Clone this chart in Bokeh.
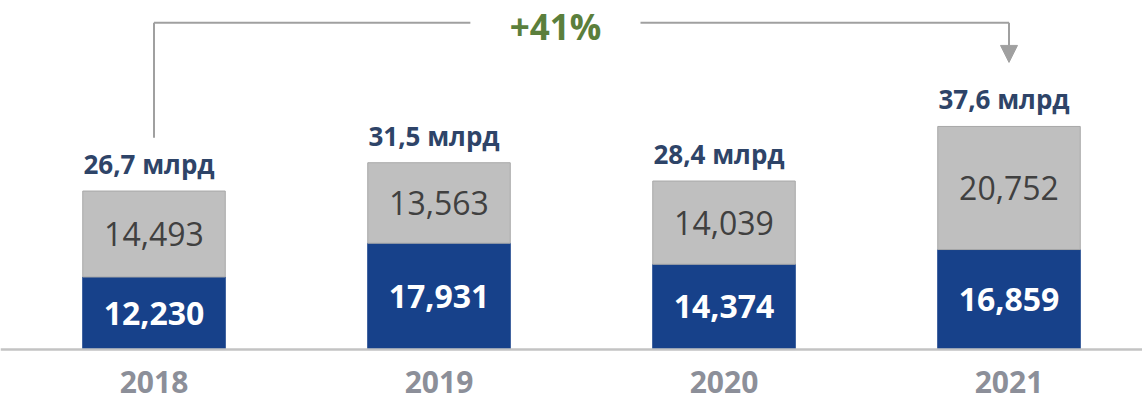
from bokeh.plotting import figure
from bokeh.models import ColumnDataSource, Range1d, Span, Arrow, NormalHead, Label
from bokeh.core.properties import value
from bokeh.embed import file_html
from bokeh.resources import INLINE

# ---- data ----
years = ["2018", "2019", "2020", "2021"]
blue_vals = [12230, 17931, 14374, 16859]
gray_vals = [14493, 13563, 14039, 20752]

# ---- style ----
BLUE = "#17418a"
GRAY = "#bfbfbf"
GRAY_EDGE = "#a8a8a8"
NAVY = "#2e4468"
GREEN = "#5b7f3c"
YEAR_COL = "#8c8f99"
LINE_COL = "#a0a0a0"
FONT = "Open Sans"

xs = list(range(len(years)))
totals = [b + g for b, g in zip(blue_vals, gray_vals)]
growth = round((totals[-1] / totals[0] - 1) * 100)

src = ColumnDataSource(dict(
    x=xs,
    year=years,
    blue=blue_vals,
    gray=gray_vals,
    total=totals,
    blue_mid=[b / 2 for b in blue_vals],
    gray_mid=[b + g / 2 for b, g in zip(blue_vals, gray_vals)],
    blue_txt=[f"{v:,}" for v in blue_vals],
    gray_txt=[f"{v:,}" for v in gray_vals],
    total_txt=[f"{t / 1000:.1f}".replace(".", ",") + " млрд" for t in totals],
    zero=[0] * len(years),
))

p = figure(width=1142, height=403,
           x_range=Range1d(-0.5386, 3.4684), y_range=Range1d(-9100, 58850),
           output_backend="svg", toolbar_location=None, min_border=0)
p.axis.visible = False
p.grid.visible = False
p.outline_line_color = None
p.background_fill_color = "white"
p.border_fill_color = "white"

# stacked bars
p.vbar(x="x", width=0.5, bottom=0, top="blue", source=src,
       fill_color=BLUE, line_color=BLUE, line_width=1)
p.vbar(x="x", width=0.5, bottom="blue", top="total", source=src,
       fill_color=GRAY, line_color=GRAY_EDGE, line_width=1)

# baseline
p.add_layout(Span(location=0, dimension="width", line_color="#c3c3c3", line_width=2.5))

# in-bar labels
p.text(x="x", y="blue_mid", text="blue_txt", source=src,
       text_font=value(FONT), text_font_size="32px", text_font_style="bold",
       text_color="white", text_align="center", text_baseline="middle")
p.text(x="x", y="gray_mid", text="gray_txt", source=src,
       text_font=value(FONT), text_font_size="32px", text_font_style="normal",
       text_color="#404040", text_align="center", text_baseline="middle")

# totals above bars
p.text(x="x", y="total", text="total_txt", source=src, y_offset=-27, x_offset=-5,
       text_font=value(FONT), text_font_size="26px", text_font_style="bold",
       text_color=NAVY, text_align="center", text_baseline="middle")

# year labels under baseline
p.text(x="x", y="zero", text="year", source=src, y_offset=32,
       text_font=value(FONT), text_font_size="30px", text_font_style="bold",
       text_color=YEAR_COL, text_align="center", text_baseline="middle")

# growth bracket
top_y = 55100
gap_l, gap_r = 1.11, 1.707
p.segment(x0=[xs[0], xs[0], gap_r], y0=[totals[0] + 9000, top_y, top_y],
          x1=[xs[0], gap_l, xs[-1]], y1=[top_y, top_y, top_y],
          line_color=LINE_COL, line_width=2)
p.add_layout(Arrow(end=NormalHead(size=17, fill_color=LINE_COL, line_color=LINE_COL),
                   x_start=xs[-1], y_start=top_y, x_end=xs[-1], y_end=totals[-1] + 10800,
                   line_color=LINE_COL, line_width=2))
p.add_layout(Label(x=(gap_l + gap_r) / 2, y=top_y, y_offset=-4, text=f"+{growth}%",
                   text_font=FONT, text_font_size="35px", text_font_style="bold",
                   text_color=GREEN, text_align="center", text_baseline="middle"))

open("out.html", "w").write(file_html(p, INLINE))
